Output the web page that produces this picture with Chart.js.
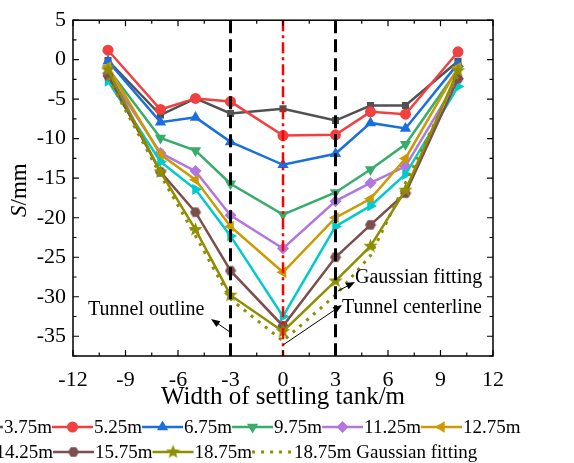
<!DOCTYPE html>
<html>
<head>
<meta charset="utf-8">
<script src="https://cdn.jsdelivr.net/npm/chart.js@4.4.1/dist/chart.umd.min.js"></script>
<style>
  html, body { margin: 0; padding: 0; background: #fff; }
  #wrap { width: 574px; height: 463px; position: relative; }
</style>
</head>
<body>
<div id="wrap"><canvas id="c" width="574" height="463"></canvas></div>
<script>
// settlement S (mm) across the settling tank, one series per depth
var widths = [-10, -7, -5, -3, 0, 3, 5, 7, 10];
var s375 = [-0.1, -7.0, -4.9, -6.8, -6.2, -7.7, -5.8, -5.8, -0.2];
var s525 = [1.2, -6.3, -4.9, -5.3, -9.6, -9.5, -6.6, -6.9, 1.0];
var s675 = [-0.2, -7.9, -7.3, -10.4, -13.3, -11.9, -8.0, -8.7, -0.5];
var s975 = [-1.1, -9.9, -11.5, -15.7, -19.6, -16.8, -13.9, -10.7, -1.2];
var s1125 = [-1.7, -11.8, -14.1, -19.7, -23.9, -17.9, -15.6, -13.5, -2.4];
var s1275 = [-0.9, -12.0, -15.2, -21.1, -26.9, -20.0, -17.6, -12.5, -1.0];
var s1425 = [-2.7, -12.9, -16.4, -22.3, -32.5, -21.1, -18.5, -14.5, -3.4];
var s1575 = [-2.0, -14.2, -19.3, -26.7, -33.7, -25.0, -20.9, -16.9, -2.4];
var s1875 = [-1.3, -14.2, -21.5, -29.8, -34.4, -28.0, -23.6, -16.5, -1.4];
var gauss1875 = [-2.3, -14.6, -22.3, -30.3, -35.6, -29.8, -24.8, -15.6, -2.0];
var seriesNames = ['3.75m', '5.25m', '6.75m', '9.75m', '11.25m', '12.75m', '14.25m', '15.75m', '18.75m', '18.75m Gaussian fitting'];
var xTicks = [-12, -9, -6, -3, 0, 3, 6, 9, 12];
var yTicks = [-35, -30, -25, -20, -15, -10, -5, 0, 5];
var guideLines = [-3, 0, 3];

var SERIF = '"Liberation Serif", "Times New Roman", serif';

function pts(ys) {
  return widths.map(function(x, i) { return {x: x, y: ys[i]}; });
}

// filled marker shapes Chart.js lacks
function shapeCanvas(color, size, draw) {
  var cv = document.createElement('canvas');
  cv.width = size; cv.height = size;
  var g = cv.getContext('2d');
  g.fillStyle = color;
  g.beginPath();
  draw(g, size / 2);
  g.closePath();
  g.fill();
  return cv;
}
function starPath(g, c) {
  for (var i = 0; i < 10; i++) {
    var r = i % 2 ? c * 0.42 : c;
    var a = -Math.PI / 2 + i * Math.PI / 5;
    g.lineTo(c + r * Math.cos(a), c + r * Math.sin(a));
  }
}
function hexPath(g, c) {
  for (var i = 0; i < 6; i++) {
    var a = i * Math.PI / 3;
    g.lineTo(c + (c - 0.5) * Math.cos(a), c + (c - 0.5) * Math.sin(a));
  }
}

var colors = ['#515151', '#F14040', '#1A6FDF', '#37AD6B', '#B177DE', '#CC9900', '#00CBCC', '#7D4E4E', '#8E8E00'];
var styles = [
  {pointStyle: 'rect', radius: 5, rotation: 0},
  {pointStyle: 'circle', radius: 5.5, rotation: 0},
  {pointStyle: 'triangle', radius: 6.5, rotation: 0},
  {pointStyle: 'triangle', radius: 6.5, rotation: 180},
  {pointStyle: 'rectRot', radius: 6, rotation: 0},
  {pointStyle: 'triangle', radius: 6.5, rotation: -90},
  {pointStyle: 'triangle', radius: 6.5, rotation: 90},
  {pointStyle: shapeCanvas(colors[7], 12, hexPath), radius: 6, rotation: 0},
  {pointStyle: shapeCanvas(colors[8], 15, starPath), radius: 7, rotation: 0}
];
var allSeries = [s375, s525, s675, s975, s1125, s1275, s1425, s1575, s1875];

var datasets = allSeries.map(function(ys, i) {
  return {
    label: seriesNames[i],
    data: pts(ys),
    borderColor: colors[i],
    backgroundColor: colors[i],
    borderWidth: 2.5,
    pointStyle: styles[i].pointStyle,
    pointRadius: styles[i].radius,
    pointRotation: styles[i].rotation,
    pointBorderWidth: 0,
    order: allSeries.length - i + 1
  };
});
datasets.push({
  label: seriesNames[9],
  data: pts(gauss1875),
  borderColor: '#8E8E00',
  backgroundColor: '#8E8E00',
  borderWidth: 3,
  borderDash: [3, 6],
  pointRadius: 0,
  order: 0
});

function arrow(ctx, x1, y1, x2, y2) {
  var a = Math.atan2(y2 - y1, x2 - x1);
  ctx.beginPath();
  ctx.moveTo(x1, y1);
  ctx.lineTo(x2 - 6 * Math.cos(a), y2 - 6 * Math.sin(a));
  ctx.stroke();
  ctx.beginPath();
  ctx.moveTo(x2, y2);
  ctx.lineTo(x2 - 9 * Math.cos(a) + 3.5 * Math.sin(a), y2 - 9 * Math.sin(a) - 3.5 * Math.cos(a));
  ctx.lineTo(x2 - 9 * Math.cos(a) - 3.5 * Math.sin(a), y2 - 9 * Math.sin(a) + 3.5 * Math.cos(a));
  ctx.closePath();
  ctx.fill();
}

var framePlugin = {
  id: 'frame',
  afterDatasetsDraw: function(chart) {
    var ctx = chart.ctx, a = chart.chartArea;
    var xs = chart.scales.x, ys = chart.scales.y;
    ctx.save();
    // tunnel outline and centre line
    guideLines.forEach(function(v) {
      var px = xs.getPixelForValue(v);
      ctx.beginPath();
      if (v === 0) {
        ctx.strokeStyle = '#FF0000'; ctx.lineWidth = 2.5; ctx.setLineDash([11, 4, 3, 4]);
      } else {
        ctx.strokeStyle = '#000'; ctx.lineWidth = 3; ctx.setLineDash([13, 6]);
      }
      ctx.moveTo(px, a.top); ctx.lineTo(px, a.bottom);
      ctx.stroke();
    });
    ctx.setLineDash([]);

    // box and inward ticks
    ctx.strokeStyle = '#000'; ctx.lineWidth = 1.5;
    ctx.strokeRect(a.left, a.top, a.right - a.left, a.bottom - a.top);
    ctx.lineWidth = 1.2;
    ctx.beginPath();
    for (var v = -12; v <= 12; v += 1.5) {
      var px = xs.getPixelForValue(v), len = (v % 3 === 0) ? 6 : 3.5;
      ctx.moveTo(px, a.bottom); ctx.lineTo(px, a.bottom - len);
      ctx.moveTo(px, a.top); ctx.lineTo(px, a.top + len);
    }
    for (var w = -37.5; w <= 5; w += 2.5) {
      var py = ys.getPixelForValue(w), l2 = (w % 5 === 0) ? 6 : 3.5;
      ctx.moveTo(a.left, py); ctx.lineTo(a.left + l2, py);
      ctx.moveTo(a.right, py); ctx.lineTo(a.right - l2, py);
    }
    ctx.stroke();

    // annotations
    ctx.fillStyle = '#000';
    ctx.font = '20px ' + SERIF;
    ctx.textBaseline = 'middle';
    ctx.textAlign = 'left';
    ctx.fillText('Tunnel outline', 88, 310);
    ctx.fillText('Gaussian fitting', 355, 278);
    ctx.fillText('Tunnel centerline', 342, 308);
    ctx.lineWidth = 1;
    arrow(ctx, 230, 332, 211, 319);
    arrow(ctx, 338, 291, 355, 282);
    arrow(ctx, xs.getPixelForValue(0), 345, 342, 305);

    // axis titles
    ctx.textAlign = 'center';
    ctx.font = '25px ' + SERIF;
    ctx.fillText('Width of settling tank/m', (a.left + a.right) / 2, 397);
    ctx.translate(20, (a.top + a.bottom) / 2 + 2);
    ctx.rotate(-Math.PI / 2);
    ctx.font = 'italic 23px ' + SERIF;
    var wS = ctx.measureText('S').width;
    ctx.font = '23px ' + SERIF;
    var wR = ctx.measureText('/mm').width;
    ctx.textAlign = 'left';
    ctx.font = 'italic 23px ' + SERIF;
    ctx.fillText('S', -(wS + wR) / 2, 0);
    ctx.font = '23px ' + SERIF;
    ctx.fillText('/mm', -(wS + wR) / 2 + wS, 0);
    ctx.restore();

    // legend, two rows wider than the canvas like the original
    drawLegendRow(chart, [0, 1, 2, 3, 4, 5], 52, 427);
    drawLegendRow(chart, [6, 7, 8, 9], 53, 452);
  }
};

function drawLegendRow(chart, idx, anchor, y) {
  var ctx = chart.ctx;
  var dsets = chart.data.datasets;
  ctx.save();
  ctx.font = '19px ' + SERIF;
  ctx.textBaseline = 'middle';
  ctx.textAlign = 'left';
  var lineLen = 41, gap = 1;
  var x = anchor - lineLen - gap - ctx.measureText(dsets[idx[0]].label).width;
  idx.forEach(function(i) {
    var ds = dsets[i];
    ctx.save();
    ctx.strokeStyle = ds.borderColor;
    ctx.lineWidth = ds.borderWidth;
    ctx.setLineDash(ds.borderDash || []);
    ctx.beginPath();
    ctx.moveTo(x, y); ctx.lineTo(x + lineLen, y);
    ctx.stroke();
    ctx.restore();
    if (ds.pointRadius > 0) {
      ctx.fillStyle = ds.backgroundColor;
      Chart.helpers.drawPoint(ctx, {
        pointStyle: ds.pointStyle, rotation: ds.pointRotation,
        radius: ds.pointRadius, borderWidth: 0
      }, x + lineLen / 2, y);
    }
    ctx.fillStyle = '#000';
    ctx.fillText(ds.label, x + lineLen + gap, y + 1);
    x += lineLen + gap + ctx.measureText(ds.label).width;
  });
  ctx.restore();
}

var tickFont = {family: SERIF, size: 22};

new Chart(document.getElementById('c'), {
  type: 'line',
  data: {datasets: datasets},
  options: {
    responsive: false,
    animation: false,
    layout: {padding: {top: 17, right: 81, left: 0, bottom: 0}},
    plugins: {legend: {display: false}, tooltip: {enabled: false}},
    elements: {line: {tension: 0}},
    scales: {
      x: {
        type: 'linear', min: -12, max: 12,
        afterBuildTicks: function(s) { s.ticks = xTicks.map(function(v) { return {value: v}; }); },
        afterFit: function(s) { s.height = 107; },
        grid: {display: false, drawTicks: false},
        border: {display: false},
        ticks: {font: tickFont, color: '#000', padding: 11, maxRotation: 0, autoSkip: false}
      },
      y: {
        type: 'linear', min: -37.5, max: 5,
        afterBuildTicks: function(s) { s.ticks = yTicks.map(function(v) { return {value: v}; }); },
        afterFit: function(s) { s.width = 73; },
        grid: {display: false, drawTicks: false},
        border: {display: false},
        ticks: {font: tickFont, color: '#000', padding: 7, autoSkip: false}
      }
    }
  },
  plugins: [framePlugin]
});
</script>
</body>
</html>
